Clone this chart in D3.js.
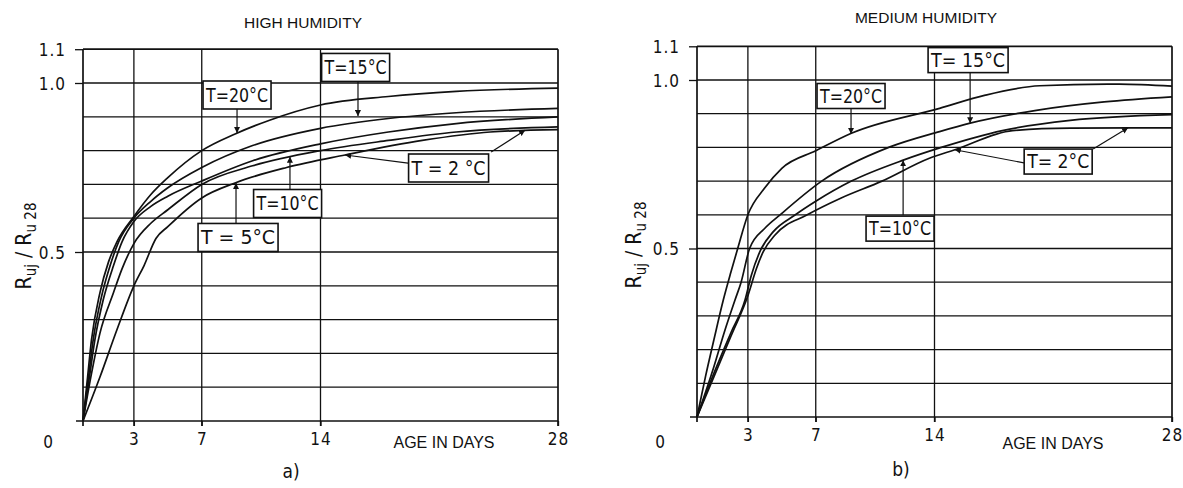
<!DOCTYPE html>
<html>
<head>
<meta charset="utf-8">
<script src="https://cdn.jsdelivr.net/npm/d3@7/dist/d3.min.js"></script>
<style>
  body { margin: 0; background: #fff; }
  svg { display: block; }
  .num, .tick text { font-family: "DejaVu Sans Condensed", "Liberation Sans Narrow", "DejaVu Sans", sans-serif; fill: #111; }
  .plain { font-family: "Liberation Sans", Arial, sans-serif; fill: #111; }
</style>
</head>
<body>
<div id="chart"></div>
<script>
/* DATA */
const dayTicks = [3, 7, 14, 28];
const gridDays = [0, 3, 7, 14, 28];
const ratioTicks = [0.5, 1.0, 1.1];
const gridRatios = d3.range(12).map(i => i / 10);

// a) high humidity, [age in days, Ruj/Ru28]
const highT20 = [[0,0],[0.25,0.12],[0.5,0.24],[1,0.38],[1.5,0.47],[2,0.53],[3,0.605],[4,0.67],[5,0.72],[7,0.80],[9,0.85],[11,0.89],[14,0.935],[18,0.96],[22,0.975],[28,0.985]];
const highT15 = [[0,0],[0.3,0.12],[0.6,0.24],[1.1,0.37],[1.6,0.46],[2.1,0.53],[3,0.60],[4,0.65],[5,0.69],[7,0.75],[10,0.815],[14,0.866],[18,0.895],[22,0.912],[28,0.925]];
const highT10 = [[0,0],[0.35,0.12],[0.7,0.24],[1.2,0.36],[1.8,0.46],[2.3,0.53],[3,0.59],[4,0.635],[5,0.665],[7,0.71],[10,0.77],[14,0.82],[18,0.855],[22,0.88],[28,0.90]];
const highT5 = [[0,0],[0.5,0.14],[1,0.26],[1.8,0.38],[2.3,0.45],[3,0.525],[4,0.585],[5,0.625],[7,0.70],[10,0.755],[14,0.80],[18,0.83],[22,0.855],[28,0.87]];
const highT2 = [[0,0],[1,0.13],[2,0.27],[3,0.40],[3.6,0.46],[4.3,0.54],[5,0.575],[7,0.66],[9,0.705],[12,0.75],[15.45,0.787],[20,0.83],[24,0.855],[28,0.862]];

// b) medium humidity
const medT20 = [[0,0],[0.5,0.12],[1,0.23],[1.55,0.347],[2,0.43],[2.4,0.5],[3,0.6],[4,0.68],[5,0.738],[7,0.79],[9.1,0.842],[14.3,0.916],[17,0.955],[20.2,0.983],[24.2,0.988],[24.9,0.988],[28,0.982]];
const medT15 = [[0,0],[1,0.15],[1.6,0.25],[2.24,0.347],[2.6,0.4],[3.1,0.5],[4,0.56],[4.9,0.6],[7.35,0.7],[11.3,0.8],[14.3,0.847],[16.1,0.872],[20,0.91],[24,0.935],[28,0.95]];
const medT10 = [[0,0],[1,0.13],[2,0.25],[2.83,0.347],[3.2,0.42],[3.7,0.49],[4.5,0.55],[5.8,0.6],[7,0.64],[9.1,0.7],[12.2,0.763],[14.4,0.8],[18,0.85],[22,0.88],[28,0.897]];
const medT2 = [[0,0],[1,0.12],[2,0.24],[3,0.36],[3.5,0.44],[3.9,0.49],[4.6,0.54],[6.5,0.6],[8.5,0.65],[10.9,0.7],[13.7,0.768],[15.2,0.793],[18.6,0.85],[22,0.857],[28,0.858]];
const medT20Gap = [24.2, 24.9];

// labels: text, box centre [day, ratio], arrows [fromDay, fromRatio, tipDay, tipRatio]
const highLabels = [
  { text: "T=20°C", at: [9.08, 0.9645], arrows: [[9.08, 0.923, 9.08, 0.852]] },
  { text: "T=15°C", at: [16.07, 1.046], arrows: [[16.21, 1.006, 16.21, 0.902]] },
  { text: "T=10°C", at: [12.06, 0.6435], arrows: [[12.2, 0.683, 12.2, 0.782]] },
  { text: "T = 5°C", at: [9.14, 0.543], arrows: [[9.02, 0.586, 9.02, 0.704]] },
  { text: "T = 2 °C", at: [21.55, 0.7485], arrows: [[19.16, 0.763, 15.45, 0.787], [24.06, 0.796, 26.06, 0.86]] }
];
const medLabels = [
  { text: "T=20°C", at: [9.08, 0.9525], arrows: [[9.08, 0.915, 9.08, 0.84]] },
  { text: "T= 15°C", at: [15.98, 1.059], arrows: [[16.1, 1.024, 16.1, 0.872]] },
  { text: "T=10°C", at: [11.97, 0.559], arrows: [[12.15, 0.599, 12.15, 0.762]] },
  { text: "T= 2°C", at: [21.29, 0.758], arrows: [[19.28, 0.754, 15.2, 0.793], [23.35, 0.795, 25.41, 0.858]] }
];

/* CONSTANTS */
const width = 1183, height = 488;
const panels = [
  { title: "HIGH HUMIDITY", tag: "a)", series: [highT20, highT15, highT10, highT5, highT2], labels: highLabels,
    x: [83, 558], y: [421, 49.2], titleAt: [303, 28], tagAt: [291, 478], zeroAt: [48, 448], yLabelAt: [31, 246],
    boxW: 68, boxH: 28, ageAt: [444, 448] },
  { title: "MEDIUM HUMIDITY", tag: "b)", series: [medT20, medT15, medT10, medT2], labels: medLabels,
    x: [697, 1172], y: [417, 46.3], titleAt: [926, 23], tagAt: [901, 476], zeroAt: [660, 448], yLabelAt: [641, 245],
    boxW: 68, boxH: 25, ageAt: [1053, 449] }
];

let svg;

/* INIT */
function init() {
  svg = d3.select("#chart").append("svg")
    .attr("width", width)
    .attr("height", height);

  svg.append("defs").append("marker")
    .attr("id", "head")
    .attr("viewBox", "0 0 10 10")
    .attr("refX", 10).attr("refY", 5)
    .attr("markerWidth", 6).attr("markerHeight", 6)
    .attr("markerUnits", "userSpaceOnUse")
    .attr("orient", "auto")
    .append("path")
    .attr("d", "M0,0L10,5L0,10z")
    .attr("fill", "#111");

  panels.forEach(drawPanel);
}

function drawPanel(p) {
  const x = d3.scaleLinear().domain([0, 28]).range(p.x);
  const y = d3.scaleLinear().domain([0, 1.1]).range(p.y);
  const g = svg.append("g");

  // grid
  g.selectAll("line.h")
    .data(gridRatios)
    .join("line")
    .attr("x1", d => d === 0 ? x(0) - 7 : x(0))
    .attr("x2", x(28))
    .attr("y1", d => y(d)).attr("y2", d => y(d))
    .attr("stroke", "#111")
    .attr("stroke-width", d => d === 0 || d > 1.05 ? 1.7 : 1.3);

  g.selectAll("line.v")
    .data(gridDays)
    .join("line")
    .attr("x1", d => x(d)).attr("x2", d => x(d))
    .attr("y1", y(0) + 5).attr("y2", y(1.1))
    .attr("stroke", "#111")
    .attr("stroke-width", d => d === 0 || d === 28 ? 1.7 : 1.3);

  // axes (labels only, grid draws the lines)
  const yAxis = g.append("g")
    .attr("transform", `translate(${x(0)},0)`)
    .call(d3.axisLeft(y).tickValues(ratioTicks).tickFormat(d3.format(".1f")).tickSize(8).tickPadding(9));
  yAxis.select(".domain").remove();
  yAxis.selectAll(".tick line").attr("stroke", "#111").attr("stroke-width", 1.3);
  yAxis.selectAll("text").attr("font-size", 17).attr("dy", "0.36em").attr("letter-spacing", 1);

  const xAxis = g.append("g")
    .attr("transform", `translate(0,${y(0)})`)
    .call(d3.axisBottom(x).tickValues(dayTicks).tickSize(5).tickPadding(7));
  xAxis.select(".domain").remove();
  xAxis.selectAll(".tick line").attr("stroke", "#111").attr("stroke-width", 1.3);
  xAxis.selectAll("text").attr("font-size", 17).attr("letter-spacing", 1);

  g.append("text").attr("class", "num")
    .attr("x", p.zeroAt[0]).attr("y", p.zeroAt[1])
    .attr("text-anchor", "middle").attr("font-size", 17)
    .text("0");

  g.append("text").attr("class", "plain")
    .attr("x", p.ageAt[0]).attr("y", p.ageAt[1])
    .attr("text-anchor", "middle").attr("font-size", 16)
    .text("AGE IN DAYS");

  g.append("text").attr("class", "plain")
    .attr("x", p.titleAt[0]).attr("y", p.titleAt[1])
    .attr("text-anchor", "middle").attr("font-size", 15.5)
    .text(p.title);

  g.append("text").attr("class", "num")
    .attr("x", p.tagAt[0]).attr("y", p.tagAt[1])
    .attr("text-anchor", "middle").attr("font-size", 19)
    .text(p.tag);

  // y label
  const yl = g.append("text").attr("class", "num")
    .attr("transform", `translate(${p.yLabelAt[0]},${p.yLabelAt[1]}) rotate(-90)`)
    .attr("text-anchor", "middle").attr("font-size", 21);
  yl.append("tspan").text("R");
  yl.append("tspan").attr("font-size", 15).attr("dy", 5).text("uj");
  yl.append("tspan").attr("dy", -5).text(" / R");
  yl.append("tspan").attr("font-size", 15).attr("dy", 5).text("u 28");

  // curves
  const line = d3.line()
    .x(d => x(d[0]))
    .y(d => y(d[1]))
    .curve(d3.curveMonotoneX);

  g.selectAll("path.curve")
    .data(p.series)
    .join("path")
    .attr("class", "curve")
    .attr("fill", "none")
    .attr("stroke", "#111")
    .attr("stroke-width", 1.7)
    .attr("d", d => d === medT20
      ? line.defined(q => q[0] <= medT20Gap[0] || q[0] >= medT20Gap[1])(d)
      : line.defined(() => true)(d));

  // labels
  p.labels.forEach(l => {
    l.arrows.forEach(a => {
      g.append("line")
        .attr("x1", x(a[0])).attr("y1", y(a[1]))
        .attr("x2", x(a[2])).attr("y2", y(a[3]))
        .attr("stroke", "#111").attr("stroke-width", 1.2)
        .attr("marker-end", "url(#head)");
    });
    const w = l.text.length > 6 ? p.boxW + 12 : p.boxW;
    g.append("rect")
      .attr("x", x(l.at[0]) - w / 2).attr("y", y(l.at[1]) - p.boxH / 2)
      .attr("width", w).attr("height", p.boxH)
      .attr("fill", "#fff").attr("stroke", "#111").attr("stroke-width", 1.6);
    g.append("text").attr("class", "num")
      .attr("x", x(l.at[0])).attr("y", y(l.at[1]))
      .attr("dy", "0.36em").attr("text-anchor", "middle")
      .attr("font-size", 19)
      .attr("textLength", w - 6)
      .attr("lengthAdjust", "spacingAndGlyphs")
      .text(l.text);
  });
}

init();
</script>
</body>
</html>
